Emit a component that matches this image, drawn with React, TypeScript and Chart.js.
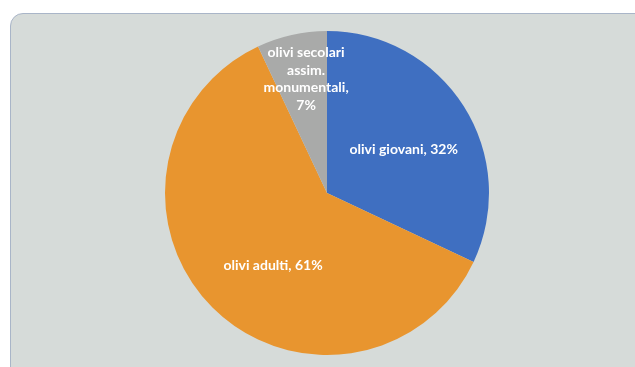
import React, { useEffect, useRef } from "react";
import { Chart, registerables } from "chart.js";

Chart.register(...registerables);

const categories = ["olivi giovani", "olivi adulti", "olivi secolari assim. monumentali"];
const values = [32, 61, 7];
const labelLines = [
  ["olivi giovani, 32%"],
  ["olivi adulti, 61%"],
  ["olivi secolari", "assim.", "monumentali,", "7%"],
];
const colors = ["#3f6fc1", "#e8952f", "#a9aaa9"];
const labelRadiusFractions = [0.545, 0.56, 0.715];
const labelAngleShiftDeg = [2.7, -8.5, 2.2];

const labelPlugin = {
  id: "sliceLabels",
  afterDatasetsDraw(chart: any) {
    const ctx = chart.ctx;
    const meta = chart.getDatasetMeta(0);
    ctx.save();
    ctx.fillStyle = "#ffffff";
    ctx.font = "bold 14px Lato, 'Open Sans', sans-serif";
    ctx.textAlign = "center";
    ctx.textBaseline = "middle";
    meta.data.forEach((arc: any, i: number) => {
      const p = arc.getProps(["x", "y", "startAngle", "endAngle", "outerRadius"], true);
      const mid = (p.startAngle + p.endAngle) / 2 + (labelAngleShiftDeg[i] * Math.PI) / 180;
      const r = p.outerRadius * labelRadiusFractions[i];
      const cx = p.x + Math.cos(mid) * r;
      const cy = p.y + Math.sin(mid) * r;
      const lines = labelLines[i];
      const lh = 17.5;
      lines.forEach((ln, k) => {
        ctx.fillText(ln, cx, cy + (k - (lines.length - 1) / 2) * lh);
      });
    });
    ctx.restore();
  },
};

export default function App() {
  const ref = useRef<HTMLCanvasElement | null>(null);
  useEffect(() => {
    if (!ref.current) return;
    const chart = new Chart(ref.current, {
      type: "pie",
      data: {
        labels: categories,
        datasets: [
          {
            data: values,
            backgroundColor: colors,
            borderWidth: 0,
            hoverOffset: 0,
          },
        ],
      },
      options: {
        animation: false,
        responsive: false,
        maintainAspectRatio: false,
        layout: { padding: 8 },
        plugins: {
          legend: { display: false },
          tooltip: { enabled: false },
        },
      },
      plugins: [labelPlugin],
    });
    return () => chart.destroy();
  }, []);

  return (
    <div
      style={{
        position: "fixed",
        left: 0,
        top: 0,
        width: 635,
        height: 367,
        background: "#ffffff",
        overflow: "hidden",
      }}
    >
      <div
        style={{
          position: "absolute",
          left: 10,
          top: 13,
          width: 660,
          height: 380,
          boxSizing: "border-box",
          border: "1.5px solid #a9b5c8",
          borderRadius: 13,
          background: "#d6dbd9",
        }}
      />
      <canvas
        ref={ref}
        width={340}
        height={340}
        style={{ position: "absolute", left: 157, top: 23, width: 340, height: 340 }}
      />
    </div>
  );
}
